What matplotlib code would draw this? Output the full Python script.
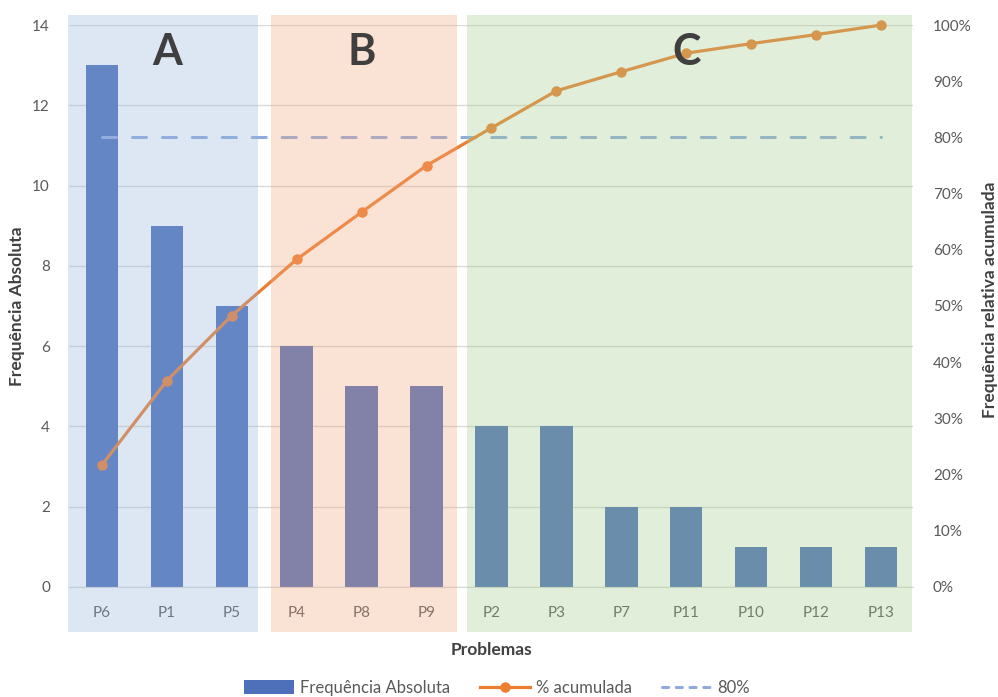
import matplotlib
matplotlib.use('Agg')
import matplotlib.pyplot as plt
from matplotlib.patches import Rectangle
from matplotlib.lines import Line2D
from matplotlib.patches import Patch

plt.rcParams['font.family'] = ['Lato', 'DejaVu Sans']

# --- Data ---
problems = ['P6', 'P1', 'P5', 'P4', 'P8', 'P9', 'P2', 'P3', 'P7', 'P11', 'P10', 'P12', 'P13']
freq = [13, 9, 7, 6, 5, 5, 4, 4, 2, 2, 1, 1, 1]
cum_pct = [21.7, 36.7, 48.3, 58.3, 66.7, 75.0, 81.7, 88.3, 91.7, 95.0, 96.7, 98.3, 100.0]
target_pct = 80
# ABC classes: (label, first index, last index)
classes = [('A', 0, 2), ('B', 3, 5), ('C', 6, 12)]
class_colors = ['#98B7DC', '#F2A77F', '#A4CD8B']

TEXT = '#595959'
GRID = '#D9D9D9'

fig = plt.figure(figsize=(9.98, 6.97), dpi=100)
ax = fig.add_axes([0.0696, 0.158, 0.8457, 0.806])
ax2 = ax.twinx()

x = list(range(len(problems)))

# bars
ax.bar(x, freq, width=0.5, color='#4E70BA', zorder=2)
ax.set_xlim(-0.5, len(problems) - 0.5)
ax.set_ylim(0, 14)
ax.set_yticks(range(0, 15, 2))
ax.set_xticks(x)
ax.set_xticklabels(problems)
ax.grid(axis='y', color=GRID, lw=1)
ax.set_axisbelow(True)
for s in ['top', 'left', 'right']:
    ax.spines[s].set_visible(False)
ax.spines['bottom'].set_color(GRID)
ax.tick_params(length=0, colors=TEXT, labelsize=11)
ax.tick_params(axis='x', pad=14)
ax.tick_params(axis='y', pad=14)

# cumulative line + 80% reference
ax2.plot(x, [p / 100 for p in cum_pct], color='#ED7D31', lw=2.3, marker='o',
         markersize=6.5, zorder=3, solid_capstyle='round', clip_on=False)
ax2.plot([x[0], x[-1]], [target_pct / 100] * 2, color='#8FAADC', lw=2.2,
         dashes=(4.6, 5.2), dash_capstyle='round', zorder=2)
ax2.set_ylim(0, 1.0)
ax2.set_yticks([i / 10 for i in range(11)])
ax2.set_yticklabels([f'{i * 10}%' for i in range(11)])
for s in ['top', 'left', 'right', 'bottom']:
    ax2.spines[s].set_visible(False)
ax2.tick_params(length=0, colors=TEXT, labelsize=11, pad=14)

# ABC overlays (translucent, on top of the marks)
bounds = [(-0.52, 2.40), (2.60, 5.47), (5.62, 12.47)]
letter_x = [1, 4, 9]
for (lab, i0, i1), (b0, b1), col, xc in zip(classes, bounds, class_colors, letter_x):
    ax2.add_patch(Rectangle((b0, -0.08), b1 - b0, 1.098, facecolor=col,
                            edgecolor='none', alpha=0.32, zorder=10, clip_on=False))
    ax2.text(xc, 0.952, lab, ha='center', va='center', fontsize=31,
             fontweight='bold', color='#3F3F3F', zorder=11)

# axis titles
fig.text(17 / 998, 1 - 306 / 697, 'Frequência Absoluta', rotation=90, ha='center',
         va='center', fontsize=12.5, fontweight='bold', color='#404040')
fig.text(990 / 998, 1 - 300 / 697, 'Frequência relativa acumulada', rotation=90,
         ha='center', va='center', fontsize=12.5, fontweight='bold', color='#404040')
fig.text(491 / 998, 1 - 650 / 697, 'Problemas', ha='center', va='center',
         fontsize=12.5, fontweight='bold', color='#404040')

# legend
handles = [
    Patch(facecolor='#4E70BA', edgecolor='none'),
    Line2D([], [], color='#ED7D31', lw=2.3, marker='o', markersize=6.5),
    Line2D([], [], color='#8FAADC', lw=2.2, dashes=(2, 2.5), dash_capstyle='round'),
]
fig.legend(handles, ['Frequência Absoluta', '% acumulada', '80%'], loc='center',
           bbox_to_anchor=(497 / 998, 1 - 688 / 697), ncol=3, frameon=False,
           fontsize=12, labelcolor=TEXT, handlelength=3.0, handletextpad=0.35,
           columnspacing=1.8, handleheight=0.9)

fig.savefig('out.png', dpi=100)
